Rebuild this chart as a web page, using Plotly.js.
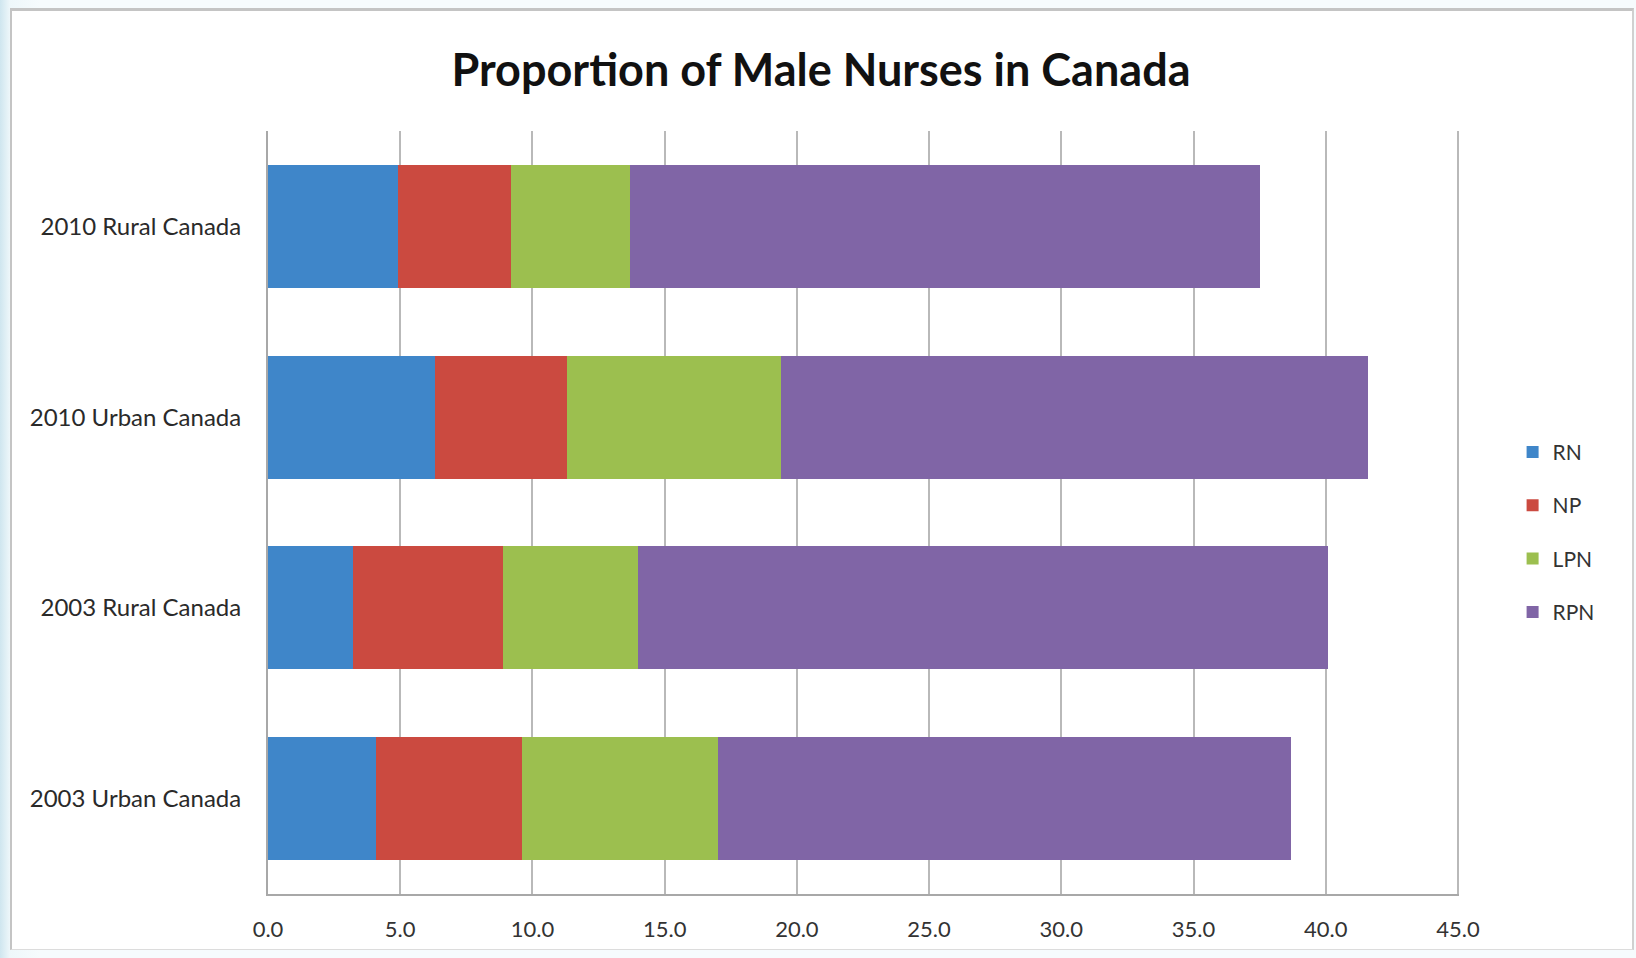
<!DOCTYPE html>
<html>
<head>
<meta charset="utf-8">
<script src="https://cdn.plot.ly/plotly-3.0.1.min.js"></script>
<style>
  html, body { margin: 0; padding: 0; width: 1636px; height: 958px; overflow: hidden;
    background: linear-gradient(90deg, #cfe6ef 0px, #eef7fa 10px, #f6fbfd 40px); }
  #frame { position: absolute; left: 10px; top: 8px; width: 1620px; height: 938px;
    background: #ffffff; border-top: 3px solid #c4c4c4; border-left: 2px solid #c4c4c4;
    border-right: 2px solid #d0d0d0; border-bottom: 1px solid #dcdcdc; }
  #chart { position: absolute; left: 0px; top: 0px; width: 1618px; height: 936px; }
</style>
</head>
<body>
<div id="frame"><div id="chart"></div></div>
<script>
// Categories (bottom to top, as plotted)
const categories = ['2003 Urban Canada', '2003 Rural Canada', '2010 Urban Canada', '2010 Rural Canada'];

// Series values (percent), same order as categories
const rnValues  = [4.1, 3.2, 6.3, 4.9];
const npValues  = [5.5, 5.7, 5.0, 4.3];
const lpnValues = [7.4, 5.1, 8.1, 4.5];
const rpnValues = [21.7, 26.1, 22.2, 23.8];

const seriesNames  = ['RN', 'NP', 'LPN', 'RPN'];
const seriesColors = ['#3f86c9', '#cb4a40', '#9cbf4f', '#8065a6'];
const seriesValues = [rnValues, npValues, lpnValues, rpnValues];

// X-axis ticks
const xTickVals = [0, 5, 10, 15, 20, 25, 30, 35, 40, 45];

const traces = seriesNames.map((name, i) => ({
  type: 'bar',
  orientation: 'h',
  name: name,
  legendgroup: name,
  y: categories,
  x: seriesValues[i],
  marker: { color: seriesColors[i], line: { width: 0 } },
  hoverinfo: 'x+name'
}));

const W = 1618, H = 936;
const layout = {
  width: W, height: H,
  paper_bgcolor: 'rgba(0,0,0,0)',
  plot_bgcolor: '#ffffff',
  margin: { l: 256, r: 171, t: 120, b: 53, pad: 0 },
  barmode: 'stack',
  bargap: 0.355,
  font: { family: 'Lato, "Open Sans", sans-serif', color: '#222222' },
  title: {
    text: 'Proportion of Male Nurses in Canada',
    font: { family: 'Lato, "Open Sans", sans-serif', size: 45, color: '#111111', weight: 'bold' },
    xref: 'container', x: 0.5, xanchor: 'center',
    yref: 'container', y: 1 - 59 / H, yanchor: 'middle'
  },
  xaxis: {
    range: [0, 45.04],
    tickvals: xTickVals,
    ticktext: xTickVals.map(v => v.toFixed(1)),
    showgrid: true, gridcolor: '#b9b9b9', gridwidth: 2,
    zeroline: false,
    showline: true, linecolor: '#a8a8a8', linewidth: 2,
    ticks: '', ticklabelstandoff: 15,
    tickfont: { size: 22, color: '#333333' },
    fixedrange: true
  },
  yaxis: {
    type: 'category',
    categoryorder: 'array', categoryarray: categories,
    showgrid: false, zeroline: false,
    showline: true, linecolor: '#a8a8a8', linewidth: 2,
    ticks: '', ticklabelstandoff: 20,
    tickfont: { size: 24, color: '#2a2a2a' },
    fixedrange: true
  },
  showlegend: true,
  legend: {
    x: 1.045, xanchor: 'left',
    y: 0.474, yanchor: 'middle',
    traceorder: 'grouped',
    tracegroupgap: 23,
    font: { size: 21, color: '#333333' },
    bgcolor: 'rgba(0,0,0,0)',
    itemclick: false, itemdoubleclick: false
  }
};

Plotly.newPlot('chart', traces, layout, { displayModeBar: false, staticPlot: true });
</script>
</body>
</html>
